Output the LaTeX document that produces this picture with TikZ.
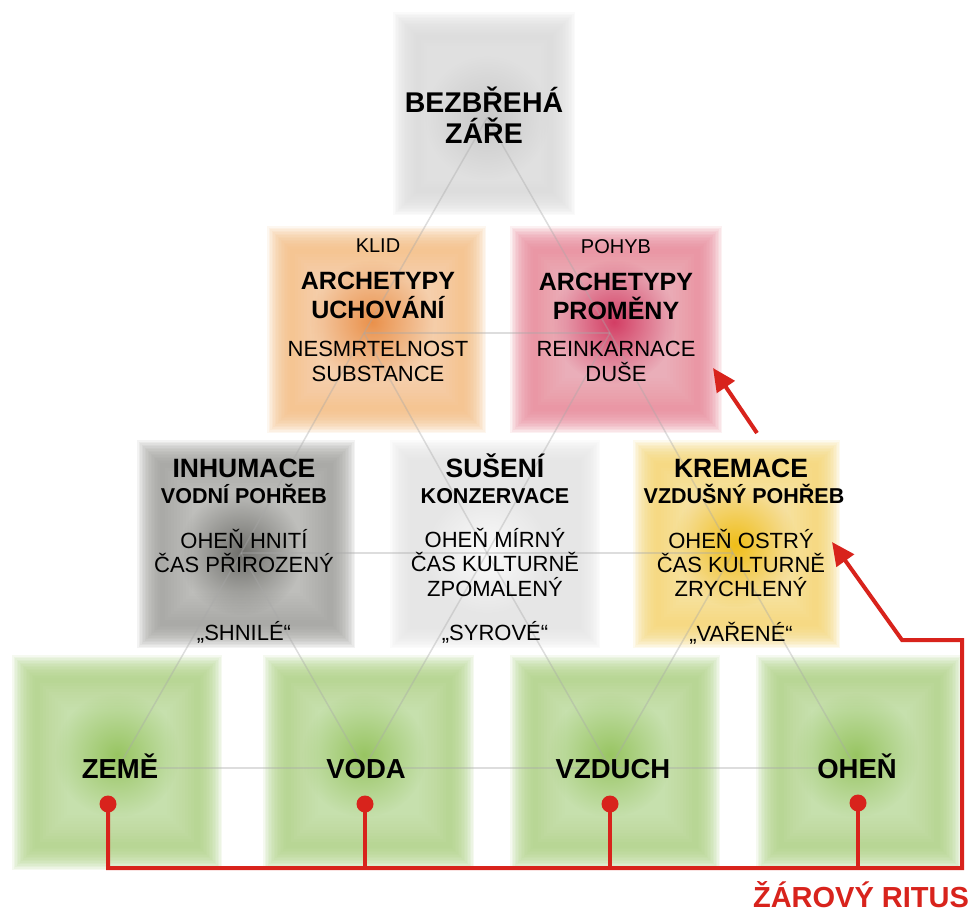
\documentclass[tikz,border=0pt]{standalone}
\usepackage{fontspec}
\setmainfont{Liberation Sans}
\usetikzlibrary{arrows.meta,fadings}
\tikzfading[name=glowfade, inner color=transparent!0, outer color=transparent!100]
\definecolor{rritus}{HTML}{D8231C}
\definecolor{cTop}{HTML}{DCDCDC}\definecolor{cTopC}{HTML}{C4C4C4}
\definecolor{cOr}{HTML}{F5C088}\definecolor{cOrC}{HTML}{E8863A}
\definecolor{cRe}{HTML}{EA8C9C}\definecolor{cReC}{HTML}{CF2A55}
\definecolor{cIn}{HTML}{A2A29E}\definecolor{cInC}{HTML}{62625E}
\definecolor{cSu}{HTML}{E6E6E6}\definecolor{cSuC}{HTML}{FFFFFF}
\definecolor{cKr}{HTML}{F6D877}\definecolor{cKrC}{HTML}{EFB800}
\definecolor{cGr}{HTML}{B2D48A}\definecolor{cGrC}{HTML}{90C055}
\definecolor{lat}{HTML}{A8A8A8}
\newcommand{\softbox}[7]{%
  \foreach \i in {0,...,15}{%
    \fill[#5, fill opacity=0.12] ({#1+\i*1.5},{#2+\i*1.5}) rectangle ({#3-\i*1.5},{#4-\i*1.5});
  }%
  \foreach \i in {0,...,9}{%
    \fill[white, fill opacity=0.03] ({#1+28+\i*3},{#2+28+\i*3}) rectangle ({#3-28-\i*3},{#4-28-\i*3});
  }%
  \fill[#6, fill opacity=0.85, path fading=glowfade] (#7) circle[radius=62pt];
}
\newcommand{\lbl}[5]{\node[#4, anchor=base] (#1) at (#2,#3) {#5};}
\begin{document}
\begin{tikzpicture}[x=1pt,y=-1pt,
  ttl/.style={font=\bfseries\fontsize{25}{29}\selectfont, inner sep=0pt},
  topt/.style={font=\bfseries\fontsize{28.5}{32}\selectfont, inner sep=0pt},
  small/.style={font=\fontsize{20}{23}\selectfont, inner sep=0pt},
  desc/.style={font=\fontsize{22}{25}\selectfont, inner sep=0pt},
  big/.style={font=\bfseries\fontsize{26.5}{30}\selectfont, inner sep=0pt},
  subt/.style={font=\bfseries\fontsize{21.5}{25}\selectfont, inner sep=0pt},
  elem/.style={font=\bfseries\fontsize{27.5}{31}\selectfont, inner sep=0pt},
  ritus/.style={font=\bfseries\fontsize{29}{32}\selectfont, text=rritus, inner sep=0pt},
  latline/.style={draw=lat, line width=1.5pt, opacity=0.38},
  rl/.style={draw=rritus, line width=4pt, line join=miter},
  rtip/.style={-{Triangle[length=23pt,width=21pt]}},
  rdot/.style={circle, fill=rritus, minimum size=17pt, inner sep=0pt}]
\useasboundingbox (0,0) rectangle (969,914);
\fill[white] (0,0) rectangle (969,914);
% lattice points
\coordinate (L0) at (487,118);
\coordinate (L21) at (364,333); \coordinate (L22) at (610,333);
\coordinate (L31) at (241,553); \coordinate (L32) at (487,553); \coordinate (L33) at (733,553);
\coordinate (L41) at (118,768); \coordinate (L42) at (364,768); \coordinate (L43) at (610,768); \coordinate (L44) at (856,768);
% boxes
\softbox{393}{12}{575}{215}{cTop}{cTopC}{L0}
\softbox{267}{226}{486}{433}{cOr}{cOrC}{372,322}
\softbox{510}{226}{722}{433}{cRe}{cReC}{614,322}
\softbox{137}{440}{355}{648}{cIn}{cInC}{L31}
\softbox{390}{440}{600}{648}{cSu}{cSuC}{L32}
\softbox{633}{440}{840}{648}{cKr}{cKrC}{735,545}
\softbox{12}{655}{222}{870}{cGr}{cGrC}{117,755}
\softbox{263}{655}{474}{870}{cGr}{cGrC}{364,755}
\softbox{510}{655}{720}{870}{cGr}{cGrC}{610,755}
\softbox{756}{655}{962}{870}{cGr}{cGrC}{856,755}
% lattice lines
\draw[latline] (L0) -- (L21) -- (L31) -- (L41);
\draw[latline] (L0) -- (L22) -- (L33) -- (L44);
\draw[latline] (L21) -- (L22);
\draw[latline] (L31) -- (L33);
\draw[latline] (L41) -- (L44);
\draw[latline] (L21) -- (L32) -- (L43);
\draw[latline] (L22) -- (L32) -- (L42);
\draw[latline] (L31) -- (L42);
\draw[latline] (L33) -- (L43);
% texts
\lbl{t1}{484}{112}{topt}{BEZBŘEHÁ}
\lbl{t2}{484}{143}{topt}{ZÁŘE}
\lbl{o1}{378}{252}{small}{KLID}
\lbl{o2}{378}{289}{ttl}{ARCHETYPY}
\lbl{o3}{378}{318}{ttl}{UCHOVÁNÍ}
\lbl{o4}{378}{356}{desc}{NESMRTELNOST}
\lbl{o5}{378}{381}{desc}{SUBSTANCE}
\lbl{r1}{616}{253}{small}{POHYB}
\lbl{r2}{616}{290}{ttl}{ARCHETYPY}
\lbl{r3}{616}{319}{ttl}{PROMĚNY}
\lbl{r4}{616}{356}{desc}{REINKARNACE}
\lbl{r5}{616}{381}{desc}{DUŠE}
\lbl{i1}{244}{477}{big}{INHUMACE}
\lbl{i2}{244}{503}{subt}{VODNÍ POHŘEB}
\lbl{i3}{244}{548}{desc}{OHEŇ HNITÍ}
\lbl{i4}{244}{572}{desc}{ČAS PŘIROZENÝ}
\lbl{i5}{244}{640}{desc}{„SHNILÉ“}
\lbl{s1}{495}{477}{big}{SUŠENÍ}
\lbl{s2}{495}{503}{subt}{KONZERVACE}
\lbl{s3}{495}{547}{desc}{OHEŇ MÍRNÝ}
\lbl{s4}{495}{571}{desc}{ČAS KULTURNĚ}
\lbl{s5}{495}{596}{desc}{ZPOMALENÝ}
\lbl{s6}{495}{640}{desc}{„SYROVÉ“}
\lbl{k1}{741}{477}{big}{KREMACE}
\lbl{k2}{744}{503}{subt}{VZDUŠNÝ POHŘEB}
\lbl{k3}{741}{548}{desc}{OHEŇ OSTRÝ}
\lbl{k4}{741}{572}{desc}{ČAS KULTURNĚ}
\lbl{k5}{741}{596}{desc}{ZRYCHLENÝ}
\lbl{k6}{741}{641}{desc}{„VAŘENÉ“}
\lbl{g1}{120}{778}{elem}{ZEMĚ}
\lbl{g2}{366}{778}{elem}{VODA}
\lbl{g3}{613}{778}{elem}{VZDUCH}
\lbl{g4}{857}{778}{elem}{OHEŇ}
\lbl{zr}{861}{907}{ritus}{ŽÁROVÝ RITUS}
% red connectors
\node[rdot] (dz) at (108,804) {};
\node[rdot] (dv) at (365,804) {};
\node[rdot] (dx) at (610,804) {};
\node[rdot] (dh) at (858,803) {};
\coordinate (b1) at (962,868);
\coordinate (b2) at (962,640);
\coordinate (b3) at (902,640);
\coordinate (tk) at (832,542);
\coordinate (a2s) at (757,433);
\coordinate (a2e) at (713,368);
\draw[rl, rtip] (dz.center) |- (b1) -- (b2) -- (b3) -- (tk);
\draw[rl] (dv.center) -- (dv.center |- b1);
\draw[rl] (dx.center) -- (dx.center |- b1);
\draw[rl] (dh.center) -- (dh.center |- b1);
\draw[rl, rtip] (a2s) -- (a2e);
\end{tikzpicture}
\end{document}
